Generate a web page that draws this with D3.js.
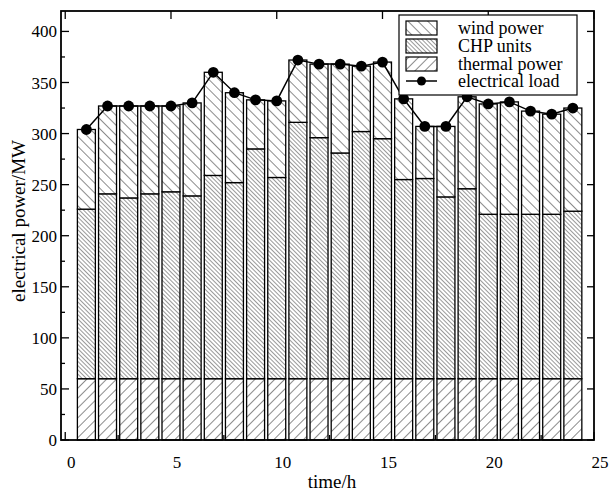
<!DOCTYPE html>
<html>
<head>
<meta charset="utf-8">
<script src="https://cdn.jsdelivr.net/npm/d3@7"></script>
<style>
  body { margin: 0; background: #fff; }
  text { font-family: "Liberation Serif", "Times New Roman", serif; fill: #000; }
</style>
</head>
<body>
<svg width="611" height="495"></svg>
<script>
// data
const hours = [1,2,3,4,5,6,7,8,9,10,11,12,13,14,15,16,17,18,19,20,21,22,23,24];
const thermalPower = [60,60,60,60,60,60,60,60,60,60,60,60,60,60,60,60,60,60,60,60,60,60,60,60];
const chpUnits = [166,181,177,181,183,179,199,192,225,197,251,236,221,242,235,195,196,178,186,161,161,161,161,164];
const windPower = [78,86,90,86,84,91,101,88,48,75,61,72,87,64,75,79,51,69,90,108,110,101,98,101];
const electricalLoad = [304,327,327,327,327,330,360,340,333,332,372,368,368,366,370,334,307,307,336,329,331,322,319,325];
const xTicks = [0,5,10,15,20,25];
const yTicks = [0,50,100,150,200,250,300,350,400];
const seriesNames = ["thermal power", "CHP units", "wind power"];

const svg = d3.select("svg");
const pLeft = 61, pRight = 594, pTop = 11, pBottom = 440;

const x = d3.scaleLinear().domain([-0.2, 25]).range([pLeft, pRight]);
const y = d3.scaleLinear().domain([0, 420]).range([pBottom, pTop]);

// hatch patterns
const defs = svg.append("defs");
function hatch(id, gap, angle, sw) {
    const p = defs.append("pattern")
        .attr("id", id)
        .attr("patternUnits", "userSpaceOnUse")
        .attr("width", gap).attr("height", gap)
        .attr("patternTransform", `rotate(${angle})`);
    p.append("rect").attr("width", gap).attr("height", gap).attr("fill", "#fff");
    p.append("line")
        .attr("x1", 0).attr("y1", 0).attr("x2", 0).attr("y2", gap)
        .attr("stroke", "#000").attr("stroke-width", sw);
}
hatch("h-thermal", 7, 45, 0.9);
hatch("h-chp", 3, -45, 0.8);
hatch("h-wind", 7, -45, 0.9);
const fills = { "thermal power": "url(#h-thermal)", "CHP units": "url(#h-chp)", "wind power": "url(#h-wind)" };

// stacked table
const table = hours.map((h, i) => ({
    hour: h,
    "thermal power": thermalPower[i],
    "CHP units": chpUnits[i],
    "wind power": windPower[i]
}));
const stacked = d3.stack().keys(seriesNames)(table);

// ticks (drawn before bars)
const ticks = svg.append("g").attr("stroke", "#000").attr("stroke-width", 1.3);
d3.range(0, 25.1, 2.5).forEach(v => {
    const len = v % 5 === 0 ? 8 : 5;
    ticks.append("line").attr("x1", x(v)).attr("x2", x(v)).attr("y1", pBottom).attr("y2", pBottom - len);
});
xTicks.forEach(v => {
    ticks.append("line").attr("x1", x(v)).attr("x2", x(v)).attr("y1", pTop).attr("y2", pTop + 8);
});
d3.range(0, 420, 25).forEach(v => {
    const len = v % 50 === 0 ? 8 : 4;
    ticks.append("line").attr("x1", pLeft).attr("x2", pLeft + len).attr("y1", y(v)).attr("y2", y(v));
});
yTicks.forEach(v => {
    ticks.append("line").attr("x1", pRight).attr("x2", pRight - 7).attr("y1", y(v)).attr("y2", y(v));
});

// bars
const bw = 0.85;
svg.append("g")
    .selectAll("g")
    .data(stacked)
    .join("g")
        .attr("fill", d => fills[d.key])
    .selectAll("rect")
    .data(d => d)
    .join("rect")
        .attr("x", d => x(d.data.hour - bw / 2))
        .attr("width", x(bw) - x(0))
        .attr("y", d => y(d[1]))
        .attr("height", d => y(d[0]) - y(d[1]))
        .attr("stroke", "#000")
        .attr("stroke-width", 1.3);

// load line
svg.append("path")
    .datum(electricalLoad)
    .attr("fill", "none")
    .attr("stroke", "#000")
    .attr("stroke-width", 1.5)
    .attr("d", d3.line().x((d, i) => x(hours[i])).y(d => y(d)));
svg.append("g")
    .selectAll("circle")
    .data(electricalLoad)
    .join("circle")
        .attr("cx", (d, i) => x(hours[i]))
        .attr("cy", d => y(d))
        .attr("r", 5.4)
        .attr("fill", "#000");

// frame
svg.append("rect")
    .attr("x", pLeft).attr("y", pTop)
    .attr("width", pRight - pLeft).attr("height", pBottom - pTop)
    .attr("fill", "none").attr("stroke", "#000").attr("stroke-width", 1.8);

// tick labels
svg.append("g").selectAll("text")
    .data(xTicks)
    .join("text")
        .attr("x", d => x(d) + 6)
        .attr("y", 468)
        .attr("text-anchor", "middle")
        .style("font-size", "17px")
        .text(d => d);
svg.append("g").selectAll("text")
    .data(yTicks)
    .join("text")
        .attr("x", 57)
        .attr("y", d => y(d) + 6)
        .attr("text-anchor", "end")
        .style("font-size", "17px")
        .text(d => d);

// axis titles
svg.append("text")
    .attr("x", 332).attr("y", 488)
    .attr("text-anchor", "middle")
    .style("font-size", "19px")
    .text("time/h");
svg.append("text")
    .attr("transform", "translate(25,221) rotate(-90)")
    .attr("text-anchor", "middle")
    .style("font-size", "19px")
    .text("electrical power/MW");

// legend
const legend = svg.append("g");
legend.append("rect")
    .attr("x", 399).attr("y", 15).attr("width", 178).attr("height", 80)
    .attr("fill", "#fff").attr("stroke", "#000").attr("stroke-width", 1.2);
const legendItems = ["wind power", "CHP units", "thermal power"];
legendItems.forEach((k, i) => {
    const ry = 21 + i * 18;
    legend.append("rect")
        .attr("x", 406).attr("y", ry).attr("width", 31).attr("height", 14)
        .attr("fill", fills[k]).attr("stroke", "#000").attr("stroke-width", 1.2);
    legend.append("text")
        .attr("x", 458).attr("y", ry + 13)
        .style("font-size", "18px")
        .text(k);
});
legend.append("line")
    .attr("x1", 406).attr("x2", 437).attr("y1", 81).attr("y2", 81)
    .attr("stroke", "#000").attr("stroke-width", 1.5);
legend.append("circle").attr("cx", 421.5).attr("cy", 81).attr("r", 4.5).attr("fill", "#000");
legend.append("text")
    .attr("x", 458).attr("y", 87)
    .style("font-size", "18px")
    .text("electrical load");
</script>
</body>
</html>
